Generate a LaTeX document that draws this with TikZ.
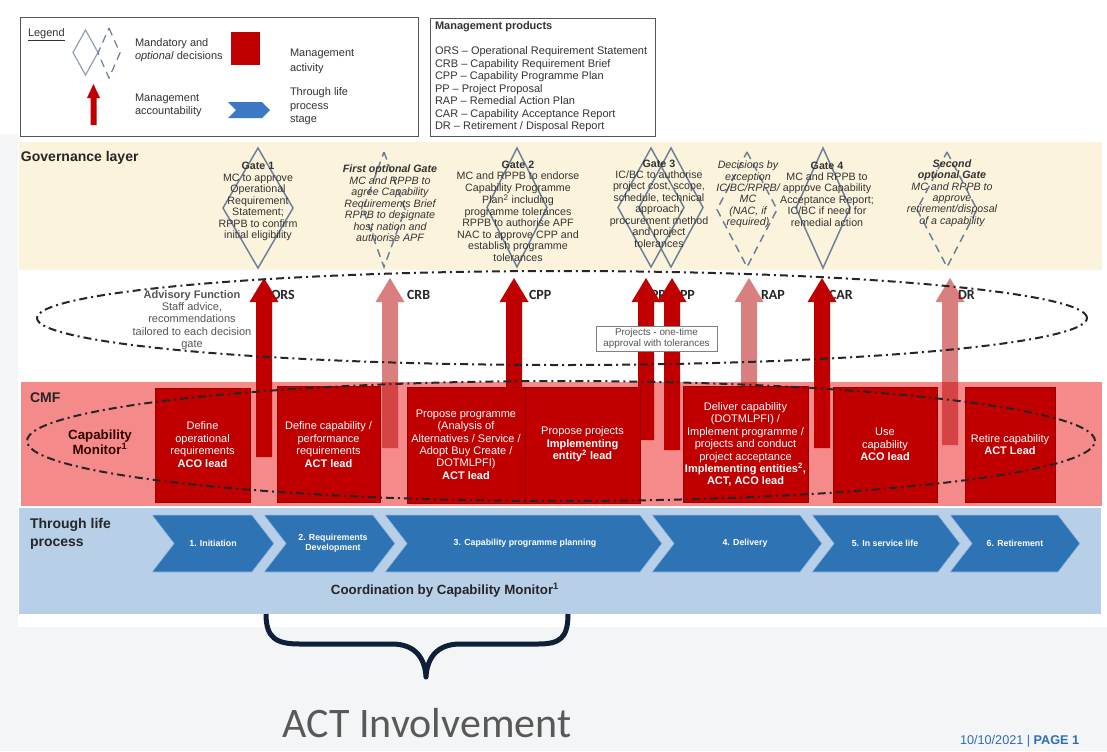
\documentclass[tikz,border=0pt]{standalone}
\usepackage{fontspec}
\setmainfont{Liberation Sans}
\newfontfamily\calib{Carlito}
\usetikzlibrary{calc}

\definecolor{pagebg}{HTML}{F3F5F7}
\definecolor{govfill}{HTML}{FCF3DC}
\definecolor{cmffill}{HTML}{F58A8A}
\definecolor{tlpfill}{HTML}{B8CFE8}
\definecolor{chevfill}{HTML}{2E74B5}
\definecolor{chevedge}{HTML}{9CBDE0}
\definecolor{legchev}{HTML}{3C78C4}
\definecolor{actred}{HTML}{C00000}
\definecolor{actedge}{HTML}{9A0000}
\definecolor{gateblue}{HTML}{6B7F99}
\definecolor{inktext}{HTML}{333333}
\definecolor{softtext}{HTML}{555555}
\definecolor{bracenavy}{HTML}{0F1F38}
\definecolor{footblue}{HTML}{2E6DB4}

% upward accountability arrow from a foot coordinate to a head coordinate
\newcommand\accarrow[3]{%
  \fill[#1] ($(#2)+(-8,0)$) -- ($(#3)+(-8,24)$) -- ($(#3)+(-14.5,24)$) -- (#3)
    -- ($(#3)+(14.5,24)$) -- ($(#3)+(8,24)$) -- ($(#2)+(8,0)$) -- cycle;}

% through-life stage chevron: left edge, right edge
\newcommand\stagechev[2]{%
  \filldraw[stage] (#1,515) -- (#2,515) -- (#2+22,543.5) -- (#2,572) -- (#1,572) -- (#1+22,543.5) -- cycle;}

\begin{document}
\begin{tikzpicture}[x=0.75pt,y=-0.75pt,
  every node/.style={inner sep=0pt, outer sep=0pt},
  frame/.style={draw=softtext, line width=0.75pt},
  legtext/.style={anchor=west, align=left, text=inktext, font=\fontsize{8.25}{9.75}\selectfont},
  prodtext/.style={anchor=west, align=left, text=inktext, font=\fontsize{8.25}{9.4}\selectfont},
  layerlabel/.style={anchor=west, align=left, text=black!85, font=\fontsize{10.5}{13.5}\selectfont\bfseries},
  gate/.style={draw=gateblue, line width=1.1pt, line join=miter},
  optgate/.style={gate, dash pattern=on 6pt off 4pt},
  gatetext/.style={align=center, text=inktext, font=\fontsize{8}{8.6}\selectfont},
  optgatetext/.style={align=center, text=inktext, font=\fontsize{8}{8.6}\selectfont\itshape},
  prodlabel/.style={anchor=west, text=black!85, font=\calib\fontsize{10.5}{12}\selectfont\bfseries},
  accdark/.style={fill=actred},
  acclight/.style={fill=actred!95!black, fill opacity=0.5},
  activity/.style={fill=actred, draw=actedge, line width=0.6pt},
  acttext/.style={align=center, text=white, font=\fontsize{8.25}{9.3}\selectfont},
  loop/.style={draw=black!85, line width=1.5pt, dash pattern=on 6pt off 3pt on 1.5pt off 3pt},
  stage/.style={fill=chevfill, draw=chevedge, line width=0.5pt},
  stagetext/.style={align=center, text=white, font=\fontsize{6.6}{7.6}\selectfont\bfseries},
]
\clip (0,0) rectangle (1107,751);

% page and layer bands
\fill[pagebg] (0,0) rectangle (1107,751);
\fill[white] (0,0) rectangle (1107,134);
\fill[white] (18,134) rectangle (1107,627);
\fill[govfill] (19,142) rectangle (1102,270);
\fill[cmffill] (21,382) rectangle (1102,506);
\fill[tlpfill] (19,508) rectangle (1101,614);

% legend
\draw[frame] (20,17) rectangle (418,136);
\node[legtext] (leg-title) at (28,35) {\underline{Legend}};
\draw[gate, line width=0.9pt, draw=gateblue!75] (85.5,30) -- (98,52.5) -- (85.5,75) -- (73,52.5) -- cycle;
\draw[optgate, line width=0.9pt] (109,28) -- (120,53) -- (109,78) -- (98,53) -- cycle;
\node[legtext] (leg-dec) at (135,50.5) {Mandatory and\\\textit{optional} decisions};
\fill[actred] (231,32) rectangle (260,65);
\node[legtext, font=\fontsize{8.25}{11.25}\selectfont] (leg-act) at (290,61.5) {Management\\activity};
\fill[actred] (90.5,125) -- (90.5,98) -- (87,98) -- (93.5,84) -- (100,98) -- (96.5,98) -- (96.5,125) -- cycle;
\node[legtext] (leg-acc) at (135,105.5) {Management\\accountability};
\fill[legchev] (228,102) -- (262,102) -- (270,110) -- (262,118) -- (228,118) -- (236,110) -- cycle;
\node[legtext, font=\fontsize{8.25}{10.1}\selectfont] (leg-tlp) at (290,106.5) {Through life\\process\\stage};

% management products
\draw[frame] (430,18) rectangle (655,136);
\node[prodtext, font=\fontsize{8.25}{9.4}\selectfont\bfseries] (prod-title) at (435,27) {Management products};
\node[prodtext] (prod-list) at (435,89.5) {ORS -- Operational Requirement Statement\\CRB -- Capability Requirement Brief\\CPP -- Capability Programme Plan\\PP -- Project Proposal\\RAP -- Remedial Action Plan\\CAR -- Capability Acceptance Report\\DR -- Retirement / Disposal Report};

% governance layer: decision gates
\node[layerlabel] (gov-label) at (21,158) {Governance layer};

\draw[gate] (258,148) -- (293,208) -- (258,268) -- (223,208) -- cycle;
\node[gatetext] (gate1) at (258,201.5) {\textbf{Gate 1}\\MC to approve\\Operational\\Requirement\\Statement;\\RPPB to confirm\\initial eligibility};

\draw[optgate] (384,152) -- (405,209.5) -- (384,267) -- (363,209.5) -- cycle;
\node[optgatetext] (optgate1) at (390,203.5) {\textbf{First optional Gate}\\MC and RPPB to\\agree Capability\\Requirements Brief\\RPPB to designate\\host nation and\\authorise APF};

\draw[gate] (517,148) -- (547,207.5) -- (517,267) -- (487,207.5) -- cycle;
\node[gatetext] (gate2) at (518,211) {\textbf{Gate 2}\\MC and RPPB to endorse\\Capability Programme\\Plan\textsuperscript{2} including\\programme tolerances\\RPPB to authorise APF\\NAC to approve CPP and\\establish programme\\tolerances};

\draw[gate] (651,148) -- (684,207.5) -- (651,267) -- (618,207.5) -- cycle;
\draw[gate] (671,148) -- (703,207.5) -- (671,267) -- (639,207.5) -- cycle;
\node[gatetext] (gate3) at (659,203.5) {\textbf{Gate 3}\\IC/BC to authorise\\project cost, scope,\\schedule, technical\\approach,\\procurement method\\and project\\tolerances};

\draw[optgate] (747,152) -- (777,209.5) -- (747,267) -- (717,209.5) -- cycle;
\node[optgatetext] (exception) at (748,194.5) {Decisions by\\exception\\IC/BC/RPPB/\\MC\\(NAC, if\\required)};

\draw[gate] (823,148) -- (850,208) -- (823,268) -- (796,208) -- cycle;
\node[gatetext] (gate4) at (827,194) {\textbf{Gate 4}\\MC and RPPB to\\approve Capability\\Acceptance Report;\\IC/BC if need for\\remedial action};

\draw[optgate] (947,152) -- (977,209.5) -- (947,267) -- (917,209.5) -- cycle;
\node[optgatetext] (optgate2) at (952,193) {\textbf{Second}\\\textbf{optional Gate}\\MC and RPPB to\\approve\\retirement/disposal\\of a capability};

% advisory function
\node[align=center, text=softtext, font=\fontsize{8.25}{9.3}\selectfont] (advisory) at (192,320) {\textbf{Advisory Function}\\Staff advice,\\recommendations\\tailored to each decision\\gate};

% management products handed upwards
\node[prodlabel] (lbl-ors) at (271,295) {ORS};
\node[prodlabel] (lbl-crb) at (407,295) {CRB};
\node[prodlabel] (lbl-cpp) at (529,295) {CPP};
\node[prodlabel] (lbl-pp1) at (651,295) {PP};
\node[prodlabel] (lbl-pp2) at (680,295) {PP};
\node[prodlabel] (lbl-rap) at (761,295) {RAP};
\node[prodlabel] (lbl-car) at (829,295) {CAR};
\node[prodlabel] (lbl-dr) at (958,295) {DR};

\coordinate (ors-foot) at (264,457);  \coordinate (ors-head) at (264,278);
\coordinate (crb-foot) at (390,448);  \coordinate (crb-head) at (390,278);
\coordinate (cpp-foot) at (514,420);  \coordinate (cpp-head) at (514,278);
\coordinate (pp1-foot) at (646,440);  \coordinate (pp1-head) at (646,278);
\coordinate (pp2-foot) at (672,450);  \coordinate (pp2-head) at (672,278);
\coordinate (rap-foot) at (749,420);  \coordinate (rap-head) at (749,278);
\coordinate (car-foot) at (822,448);  \coordinate (car-head) at (822,278);
\coordinate (dr-foot)  at (950,445);  \coordinate (dr-head)  at (950,278);

\accarrow{accdark}{ors-foot}{ors-head}
\accarrow{acclight}{crb-foot}{crb-head}
\accarrow{accdark}{cpp-foot}{cpp-head}
\accarrow{accdark}{pp1-foot}{pp1-head}
\accarrow{accdark}{pp2-foot}{pp2-head}
\accarrow{acclight}{rap-foot}{rap-head}
\accarrow{accdark}{car-foot}{car-head}
\accarrow{acclight}{dr-foot}{dr-head}

% CMF management activities
\node[layerlabel] (cmf-label) at (30,398) {CMF};
\node[align=center, text=black!80!red, font=\fontsize{10}{11.3}\selectfont\bfseries] (cap-monitor) at (100,442.5) {Capability\\Monitor\textsuperscript{1}};

\draw[activity] (155,388) rectangle (250,502);
\draw[activity] (277,386) rectangle (380,502);
\draw[activity] (407,387) rectangle (525,503);
\draw[activity] (525,387) rectangle (640,503);
\draw[activity] (683,386) rectangle (808,502);
\draw[activity] (833,387) rectangle (937,502);
\draw[activity] (965,387) rectangle (1055,502);

\node[acttext] (act1) at (202.5,444.5) {Define\\operational\\requirements\\\textbf{ACO lead}};
\node[acttext] (act2) at (328.5,444.5) {Define capability /\\performance\\requirements\\\textbf{ACT lead}};
\node[acttext] (act3) at (466,444.5) {Propose programme\\(Analysis of\\Alternatives / Service /\\Adopt Buy Create /\\DOTMLPFI)\\\textbf{ACT lead}};
\node[acttext] (act4) at (582.5,444.5) {Propose projects\\\textbf{Implementing}\\\textbf{entity\textsuperscript{2} lead}};
\node[acttext] (act5) at (745.5,444.5) {Deliver capability\\(DOTMLPFI) /\\Implement programme /\\projects and conduct\\project acceptance\\\textbf{Implementing entities\textsuperscript{2},}\\\textbf{ACT, ACO lead}};
\node[acttext] (act6) at (885,444.5) {Use\\capability\\\textbf{ACO lead}};
\node[acttext] (act7) at (1010,444.5) {Retire capability\\\textbf{ACT Lead}};

% advisory and monitoring loops
\draw[loop] (562,318) ellipse [x radius=393.75pt, y radius=35.25pt];
\draw[loop] (561,441) ellipse [x radius=400.5pt, y radius=45pt];

\node[draw=black!50, fill=white, line width=0.6pt, minimum width=90.75pt, minimum height=18.75pt, align=center, text=softtext, font=\fontsize{7.4}{8.2}\selectfont] (projects-note) at (656.5,338.5) {Projects - one-time\\approval with tolerances};

% through life process
\node[layerlabel] (tlp-label) at (30,534) {Through life\\process};
\stagechev{152}{252}
\stagechev{264}{373}
\stagechev{385}{640}
\stagechev{652}{800}
\stagechev{812}{938}
\stagechev{950}{1058}
\node[stagetext] (stage1) at (213,543.5) {1. Initiation};
\node[stagetext] (stage2) at (333,543.5) {2. Requirements\\Development};
\node[stagetext] (stage3) at (525,543.5) {3. Capability programme planning};
\node[stagetext] (stage4) at (745,543.5) {4. Delivery};
\node[stagetext] (stage5) at (885,543.5) {5. In service life};
\node[stagetext] (stage6) at (1015,543.5) {6. Retirement};
\node[text=black!85, font=\fontsize{10}{12}\selectfont\bfseries] (coordination) at (445,590) {Coordination by Capability Monitor\textsuperscript{1}};

% ACT involvement brace
\coordinate (brace-left) at (266,614);
\coordinate (brace-tip) at (426,677);
\coordinate (brace-right) at (568,614);
\draw[bracenavy, line width=3.75pt, line join=round]
  (brace-left) .. controls (266,638) and (276,644) .. (300,644) -- (392,644)
  .. controls (415,644) and (425,658) .. (brace-tip)
  .. controls (427,658) and (437,644) .. (460,644) -- (538,644)
  .. controls (560,644) and (568,638) .. (brace-right);
\node[anchor=base, text=black!65, font=\calib\fontsize{31.5}{36}\selectfont] (act-involvement) at (427,737) {ACT Involvement};

% page footer
\node[anchor=base west, text=footblue, font=\fontsize{9.5}{11}\selectfont] (footer) at (960,744) {10/10/2021 | \textbf{PAGE 1}};
\end{tikzpicture}
\end{document}
